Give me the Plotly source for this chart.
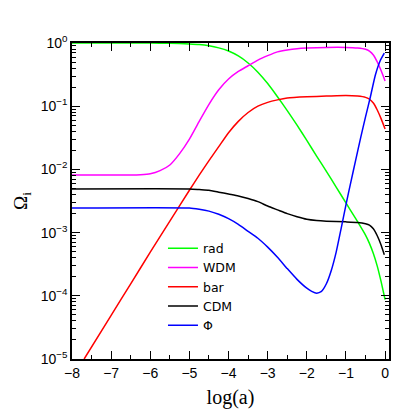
import plotly.graph_objects as go

# values: log10(Omega_i) against log(a)
rad_x = [-8, -6, -5.5, -5.0, -4.75, -4.5, -4.25, -4.0, -3.75, -3.5, -3.25, -3.0, -2.75, -2.5, -2.25, -2.0,
         -1.75, -1.5, -1.25, -1.0, -0.75, -0.5, -0.4, -0.3, -0.2, -0.1, 0.0]
rad_log = [0, -0.001, -0.004, -0.015, -0.025, -0.044, -0.077, -0.127, -0.205, -0.316, -0.462, -0.642, -0.85,
           -1.07, -1.30, -1.54, -1.79, -2.03, -2.28, -2.53, -2.78, -3.04, -3.17, -3.33, -3.53, -3.78, -4.06]

wdm_x = [-8, -6.5, -6.25, -6.0, -5.75, -5.5, -5.25, -5.0, -4.75, -4.5, -4.25, -4.0, -3.75, -3.5, -3.25, -3.0,
         -2.75, -2.5, -2.25, -2.0, -1.5, -1.0, -0.7, -0.5, -0.4, -0.3, -0.2, -0.1, 0.0]
wdm_log = [-2.09, -2.09, -2.085, -2.07, -2.02, -1.93, -1.75, -1.52, -1.24, -0.97, -0.74, -0.57, -0.45, -0.36,
           -0.27, -0.20, -0.14, -0.11, -0.09, -0.08, -0.07, -0.07, -0.08, -0.10, -0.13, -0.19, -0.30, -0.44, -0.60]

bar_x = [-7.69, -7.0, -6.5, -6.0, -5.5, -5.0, -4.75, -4.5, -4.25, -4.0, -3.75, -3.5, -3.25, -3.0, -2.75, -2.5,
         -2.0, -1.5, -1.0, -0.7, -0.5, -0.4, -0.3, -0.2, -0.1, 0.0]
bar_log = [-5.0, -4.31, -3.81, -3.31, -2.82, -2.33, -2.09, -1.86, -1.64, -1.42, -1.24, -1.10, -1.00, -0.94,
           -0.90, -0.87, -0.85, -0.84, -0.83, -0.84, -0.86, -0.89, -0.95, -1.06, -1.20, -1.36]

cdm_x = [-8, -5, -4.75, -4.5, -4.25, -4.0, -3.75, -3.5, -3.25, -3.0, -2.75, -2.5, -2.25, -2.0, -1.75, -1.5,
         -1.0, -0.7, -0.5, -0.4, -0.3, -0.2, -0.1, -0.02]
cdm_log = [-2.31, -2.31, -2.32, -2.33, -2.36, -2.39, -2.42, -2.46, -2.51, -2.58, -2.64, -2.70, -2.75, -2.79,
           -2.81, -2.82, -2.83, -2.84, -2.86, -2.88, -2.94, -3.05, -3.20, -3.35]

phi_x = [-8, -5, -4.75, -4.5, -4.25, -4.0, -3.75, -3.5, -3.25, -3.0, -2.75, -2.5, -2.25, -2.0, -1.875, -1.75,
         -1.625, -1.5, -1.375, -1.25, -1.125, -1.0, -0.875, -0.75, -0.625, -0.5, -0.375, -0.25, -0.125, -0.02]
phi_log = [-2.61, -2.61, -2.63, -2.66, -2.71, -2.78, -2.87, -2.98, -3.09, -3.23, -3.39, -3.57, -3.74, -3.88,
           -3.93, -3.96, -3.93, -3.81, -3.60, -3.31, -2.94, -2.56, -2.20, -1.85, -1.50, -1.17, -0.85, -0.51,
           -0.28, -0.16]

names = ["rad", "WDM", "bar", "CDM", "\u03a6"]
colors = ["#00ff00", "#ff00ff", "#ff0000", "#000000", "#0000ff"]
series = [(rad_x, rad_log), (wdm_x, wdm_log), (bar_x, bar_log), (cdm_x, cdm_log), (phi_x, phi_log)]

ytick_exp = [0, -1, -2, -3, -4, -5]
ytick_text = ["10<sup>%s</sup>" % (str(e).replace("-", "\u2212")) for e in ytick_exp]
xtick_vals = [-8, -7, -6, -5, -4, -3, -2, -1, 0]
xtick_text = [str(v).replace("-", "\u2212") for v in xtick_vals]

fig = go.Figure()
for (xs, ls), nm, c in zip(series, names, colors):
    fig.add_trace(go.Scatter(x=xs, y=[10 ** v for v in ls], mode="lines", name=nm,
                             line=dict(color=c, width=1.5, shape="spline", smoothing=0.5)))

minor_y = [m * 10 ** e for e in range(-5, 0) for m in range(2, 10)]

fig.update_layout(
    width=415, height=415,
    margin=dict(l=64, r=34, t=35, b=64),
    plot_bgcolor="white", paper_bgcolor="white",
    showlegend=True,
    legend=dict(x=0.287, y=0.397, xanchor="left", yanchor="top", bgcolor="rgba(0,0,0,0)",
                font=dict(family="DejaVu Sans", size=12.5, color="black"), itemwidth=30),
)
fig.update_xaxes(range=[-8, 0.1], tickvals=xtick_vals, ticktext=xtick_text,
                 ticks="inside", ticklen=8, tickwidth=1.2, tickcolor="black",
                 showline=True, linecolor="black", linewidth=1.5, mirror="allticks",
                 showgrid=False, zeroline=False,
                 minor=dict(tickvals=[v + 0.5 for v in xtick_vals[:-1]], ticks="inside", ticklen=4,
                            tickcolor="black", showgrid=False),
                 tickfont=dict(family="Liberation Sans", size=14, color="black"),
                 title=dict(text="log(a)", font=dict(family="Liberation Serif", size=20, color="black"), standoff=10))
fig.update_yaxes(type="log", range=[-5, 0], tickvals=[10 ** e for e in ytick_exp], ticktext=ytick_text,
                 ticks="inside", ticklen=8, tickwidth=1.2, tickcolor="black",
                 showline=True, linecolor="black", linewidth=1.5, mirror="allticks",
                 showgrid=False, zeroline=False,
                 minor=dict(tickvals=minor_y, ticks="inside", ticklen=4, tickcolor="black", showgrid=False),
                 tickfont=dict(family="Liberation Sans", size=14, color="black"),
                 title=dict(text="\u03a9<sub>i</sub>", font=dict(family="Liberation Serif", size=19, color="black"), standoff=8))

fig.write_html("out.html")
